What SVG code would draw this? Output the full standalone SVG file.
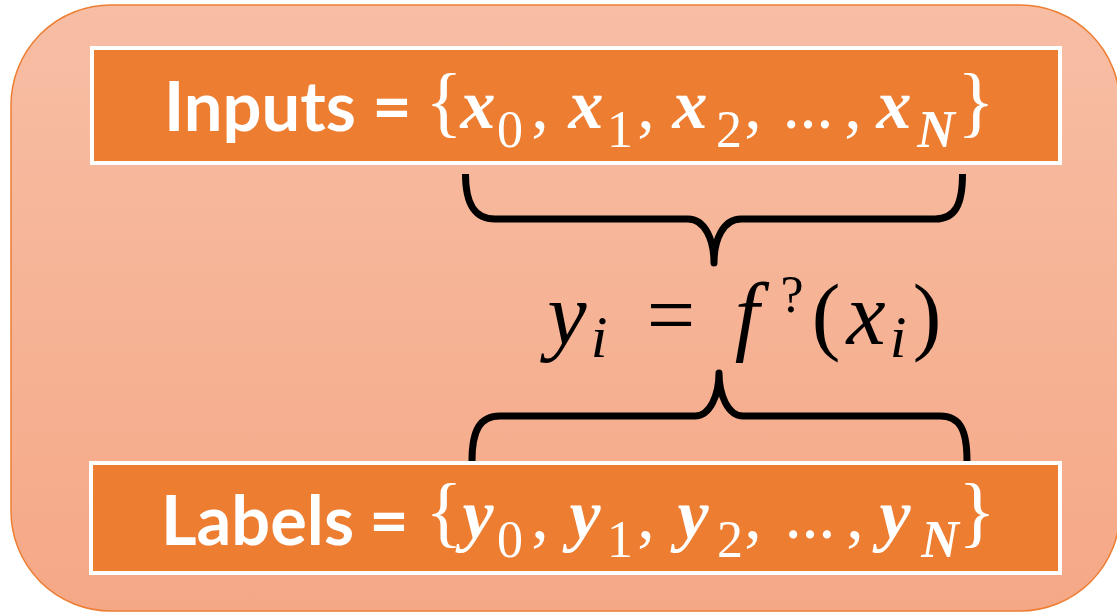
<svg xmlns="http://www.w3.org/2000/svg" width="1117" height="613" viewBox="0 0 1117 613">
  <defs>
    <linearGradient id="bg" x1="0" y1="0" x2="0" y2="1">
      <stop offset="0" stop-color="#F7BEA5"/>
      <stop offset="1" stop-color="#F5A886"/>
    </linearGradient>
  </defs>
  <style>
    .box { fill: #ED7D31; stroke: #FFFFFF; stroke-width: 4; }
    .lbl { font-family: Lato, "Open Sans", sans-serif; font-weight: 700; font-size: 68px; fill: #FFFFFF; }
    .wm { font-family: "Liberation Serif", serif; fill: #FFFFFF; text-anchor: middle; }
    .bi { font-style: italic; font-weight: 700; font-size: 70px; }
    .sub { font-size: 52px; }
    .subi { font-size: 52px; font-style: italic; font-weight: 700; }
    .br { font-size: 78px; }
    .cm { font-size: 70px; }
    .dots { font-size: 50px; font-weight: 700; }
    .km { font-family: "Liberation Serif", serif; fill: #000000; text-anchor: middle; }
    .mi { font-style: italic; font-size: 88px; }
    .mr { font-size: 86px; }
    .ms { font-style: italic; font-size: 60px; }
    .brace { fill: none; stroke: #000000; stroke-width: 7; stroke-linecap: butt; stroke-linejoin: round; }
  </style>

  <rect id="panel" x="11" y="5" width="1109" height="606" rx="100" ry="100" fill="url(#bg)" stroke="#ED7D31" stroke-width="1.5"/>

  <g id="connectors">
    <path class="brace" d="M465.5 174 C465.5 205 475 219 495 219 L688 219 C705 219 714 240 714 263 C714 240 723 219 741 219 L935 219 C955 219 962.5 205 962.5 174"/>
    <path class="brace" d="M472 461 C472 430 480 416 500 416 L695 416 C710 416 719 395 719 373 C719 395 728 416 743 416 L940 416 C960 416 967 430 967 461"/>
  </g>

  <g id="inputs">
    <rect class="box" x="92" y="48" width="968" height="115"/>
    <text class="lbl" x="164" y="131" textLength="192" lengthAdjust="spacingAndGlyphs">Inputs</text>
    <text class="lbl" x="392" y="131" text-anchor="middle">=</text>
    <text class="wm br" x="444" y="128">{</text>
    <text class="wm bi" x="478" y="128">x</text>
    <text class="wm sub" x="510" y="147">0</text>
    <text class="wm cm" x="540" y="128">,</text>
    <text class="wm bi" x="586" y="128">x</text>
    <text class="wm sub" x="620" y="147">1</text>
    <text class="wm cm" x="646" y="128">,</text>
    <text class="wm bi" x="690" y="128">x</text>
    <text class="wm sub" x="729" y="147">2</text>
    <text class="wm cm" x="753" y="128">,</text>
    <text class="wm dots" x="808" y="128">…</text>
    <text class="wm cm" x="853" y="128">,</text>
    <text class="wm bi" x="894" y="128">x</text>
    <text class="wm subi" x="936" y="147">N</text>
    <text class="wm br" x="976" y="128">}</text>
  </g>

  <g id="formula">
    <text class="km mi" x="567" y="344">y</text>
    <text class="km ms" x="599" y="357">i</text>
    <text class="km mr" x="671" y="344">=</text>
    <text class="km mi" x="747" y="344">f</text>
    <text class="km" x="792" y="312" font-size="52">?</text>
    <text class="km mr" x="826" y="344">(</text>
    <text class="km mi" x="866" y="344">x</text>
    <text class="km ms" x="898" y="357">i</text>
    <text class="km mr" x="927" y="344">)</text>
  </g>

  <g id="labels">
    <rect class="box" x="91" y="463" width="969" height="110"/>
    <text class="lbl" x="161" y="545" textLength="193" lengthAdjust="spacingAndGlyphs">Labels</text>
    <text class="lbl" x="389" y="545" text-anchor="middle">=</text>
    <text class="wm br" x="444" y="538">{</text>
    <text class="wm bi" x="478" y="538">y</text>
    <text class="wm sub" x="510" y="557">0</text>
    <text class="wm cm" x="540" y="538">,</text>
    <text class="wm bi" x="585" y="538">y</text>
    <text class="wm sub" x="620" y="557">1</text>
    <text class="wm cm" x="646" y="538">,</text>
    <text class="wm bi" x="693" y="538">y</text>
    <text class="wm sub" x="730" y="557">2</text>
    <text class="wm cm" x="753" y="538">,</text>
    <text class="wm dots" x="810" y="538">…</text>
    <text class="wm cm" x="855" y="538">,</text>
    <text class="wm bi" x="895" y="538">y</text>
    <text class="wm subi" x="940" y="557">N</text>
    <text class="wm br" x="977" y="538">}</text>
  </g>
</svg>
